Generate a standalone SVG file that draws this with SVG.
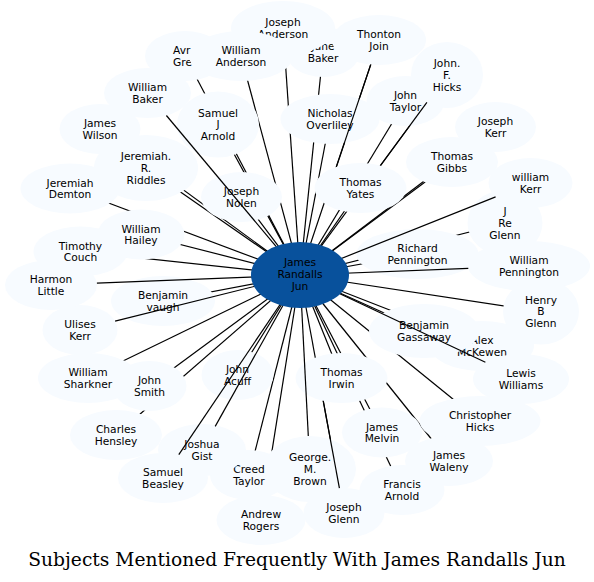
<svg xmlns="http://www.w3.org/2000/svg" width="594" height="582" viewBox="0 0 594 582">
<style>
.nd ellipse{fill:#f7fbff;stroke:none}
.ct ellipse{fill:#08519c;stroke:none}
text{font-family:"DejaVu Sans","Noto Sans",sans-serif;font-size:10.67px;text-anchor:middle;fill:#000}
.ttl{font-family:"DejaVu Serif","Liberation Serif",serif;font-size:18.67px}
.edges line{stroke:#000;stroke-width:1.2}
</style>
<rect width="594" height="582" fill="#fff"/>
<g id="edges" class="edges">
<line x1="300" y1="275" x2="323" y2="52"/>
<line x1="300" y1="275" x2="283" y2="28"/>
<line x1="300" y1="275" x2="185" y2="56"/>
<line x1="300" y1="275" x2="241" y2="56"/>
<line x1="300" y1="275" x2="379" y2="40"/>
<line x1="300" y1="275" x2="330" y2="119"/>
<line x1="300" y1="275" x2="405.5" y2="101"/>
<line x1="300" y1="275" x2="447" y2="75"/>
<line x1="300" y1="275" x2="360.5" y2="188"/>
<line x1="300" y1="275" x2="495.5" y2="127"/>
<line x1="300" y1="275" x2="452" y2="162"/>
<line x1="300" y1="275" x2="505" y2="223"/>
<line x1="300" y1="275" x2="417.5" y2="254"/>
<line x1="300" y1="275" x2="541" y2="311.5"/>
<line x1="300" y1="275" x2="482" y2="346"/>
<line x1="300" y1="275" x2="424" y2="331"/>
<line x1="300" y1="275" x2="480" y2="421"/>
<line x1="300" y1="275" x2="449" y2="461"/>
<line x1="300" y1="275" x2="402" y2="490"/>
<line x1="300" y1="275" x2="382" y2="432.5"/>
<line x1="300" y1="275" x2="344" y2="513"/>
<line x1="300" y1="275" x2="341.5" y2="378"/>
<line x1="300" y1="275" x2="261" y2="520"/>
<line x1="300" y1="275" x2="249" y2="475"/>
<line x1="300" y1="275" x2="116" y2="435"/>
<line x1="300" y1="275" x2="149.5" y2="386"/>
<line x1="300" y1="275" x2="237.5" y2="375"/>
<line x1="300" y1="275" x2="88" y2="378"/>
<line x1="300" y1="275" x2="163" y2="301"/>
<line x1="300" y1="275" x2="141" y2="234.5"/>
<line x1="300" y1="275" x2="80.5" y2="251.5"/>
<line x1="300" y1="275" x2="70" y2="188.5"/>
<line x1="300" y1="275" x2="146" y2="168"/>
<line x1="300" y1="275" x2="100" y2="129"/>
<line x1="300" y1="275" x2="218" y2="124.5"/>
<line x1="300" y1="275" x2="241.5" y2="197"/>
</g>
<g id="n-jane-baker" class="nd"><ellipse cx="323" cy="52" rx="37" ry="25"/><text x="323" y="50.1">Jane</text><text x="323" y="61.8">Baker</text></g>
<g id="n-joseph-anderson" class="nd"><ellipse cx="283" cy="28" rx="52" ry="27"/><text x="283" y="26.1">Joseph</text><text x="283" y="37.8">Anderson</text></g>
<g id="n-avr-gre" class="nd"><ellipse cx="185" cy="56" rx="40" ry="25"/><text x="173" y="54.1" style="text-anchor:start">Avr</text><text x="173" y="65.8" style="text-anchor:start">Gre</text></g>
<g id="n-william-anderson" class="nd"><ellipse cx="241" cy="56" rx="52" ry="25"/><text x="241" y="54.1">William</text><text x="241" y="65.8">Anderson</text></g>
<g id="n-thonton-join" class="nd"><ellipse cx="379" cy="40" rx="47" ry="25"/><text x="379" y="38.1">Thonton</text><text x="379" y="49.8">Join</text></g>
<g id="n-nicholas-overliley" class="nd"><ellipse cx="330" cy="119" rx="49.5" ry="25"/><text x="330" y="117.1">Nicholas</text><text x="330" y="128.8">Overliley</text></g>
<g id="n-john-taylor" class="nd"><ellipse cx="405.5" cy="101" rx="39" ry="25"/><text x="405.5" y="99.1">John</text><text x="405.5" y="110.8">Taylor</text></g>
<g id="n-john-f-hicks" class="nd"><ellipse cx="447" cy="75" rx="36" ry="33"/><text x="447" y="67.2">John.</text><text x="447" y="78.9">F.</text><text x="447" y="90.6">Hicks</text></g>
<g id="n-thomas-yates" class="nd"><ellipse cx="360.5" cy="188" rx="46" ry="25"/><text x="360.5" y="186.1">Thomas</text><text x="360.5" y="197.8">Yates</text></g>
<g id="n-joseph-kerr" class="nd"><ellipse cx="495.5" cy="127" rx="40.5" ry="25"/><text x="495.5" y="125.1">Joseph</text><text x="495.5" y="136.8">Kerr</text></g>
<g id="n-thomas-gibbs" class="nd"><ellipse cx="452" cy="162" rx="46" ry="25"/><text x="452" y="160.1">Thomas</text><text x="452" y="171.8">Gibbs</text></g>
<g id="n-william-kerr" class="nd"><ellipse cx="530.5" cy="183" rx="42" ry="25"/><text x="530.5" y="181.1">william</text><text x="530.5" y="192.8">Kerr</text></g>
<g id="n-j-re-glenn" class="nd"><ellipse cx="505" cy="223" rx="37.5" ry="33"/><text x="505" y="215.2">J</text><text x="505" y="226.9">Re</text><text x="505" y="238.6">Glenn</text></g>
<g id="n-richard-pennington" class="nd"><ellipse cx="417.5" cy="254" rx="61" ry="25"/><text x="417.5" y="252.1">Richard</text><text x="417.5" y="263.8">Pennington</text></g>
<g id="n-william-pennington" class="nd"><ellipse cx="529" cy="266" rx="61" ry="25"/><text x="529" y="264.1">William</text><text x="529" y="275.8">Pennington</text></g>
<g id="n-henry-b-glenn" class="nd"><ellipse cx="541" cy="311.5" rx="38" ry="33"/><text x="541" y="303.7">Henry</text><text x="541" y="315.4">B</text><text x="541" y="327.1">Glenn</text></g>
<g id="n-alex-mckewen" class="nd"><ellipse cx="482" cy="346" rx="52" ry="25"/><text x="482" y="344.1">Alex</text><text x="482" y="355.8">McKewen</text></g>
<g id="n-benjamin-gassaway" class="nd"><ellipse cx="424" cy="331" rx="55" ry="27"/><text x="424" y="329.1">Benjamin</text><text x="424" y="340.8">Gassaway</text></g>
<g id="n-lewis-williams" class="nd"><ellipse cx="521" cy="379" rx="48" ry="25"/><text x="521" y="377.1">Lewis</text><text x="521" y="388.8">Williams</text></g>
<g id="n-christopher-hicks" class="nd"><ellipse cx="480" cy="421" rx="60.5" ry="25"/><text x="480" y="419.1">Christopher</text><text x="480" y="430.8">Hicks</text></g>
<g id="n-james-waleny" class="nd"><ellipse cx="449" cy="461" rx="44" ry="25"/><text x="449" y="459.1">James</text><text x="449" y="470.8">Waleny</text></g>
<g id="n-francis-arnold" class="nd"><ellipse cx="402" cy="490" rx="42.5" ry="25"/><text x="402" y="488.1">Francis</text><text x="402" y="499.8">Arnold</text></g>
<g id="n-james-melvin" class="nd"><ellipse cx="382" cy="432.5" rx="40" ry="25"/><text x="382" y="430.6">James</text><text x="382" y="442.3">Melvin</text></g>
<g id="n-george-brown" class="nd"><ellipse cx="310" cy="469" rx="46" ry="33"/><text x="310" y="461.2">George.</text><text x="310" y="472.9">M.</text><text x="310" y="484.6">Brown</text></g>
<g id="n-joseph-glenn" class="nd"><ellipse cx="344" cy="513" rx="40.5" ry="25"/><text x="344" y="511.1">Joseph</text><text x="344" y="522.8">Glenn</text></g>
<g id="n-thomas-irwin" class="nd"><ellipse cx="341.5" cy="378" rx="46" ry="25"/><text x="341.5" y="376.1">Thomas</text><text x="341.5" y="387.8">Irwin</text></g>
<g id="n-andrew-rogers" class="nd"><ellipse cx="261" cy="520" rx="44.5" ry="25"/><text x="261" y="518.1">Andrew</text><text x="261" y="529.8">Rogers</text></g>
<g id="n-creed-taylor" class="nd"><ellipse cx="249" cy="475" rx="39" ry="25"/><text x="249" y="473.1">Creed</text><text x="249" y="484.8">Taylor</text></g>
<g id="n-joshua-gist" class="nd"><ellipse cx="202" cy="450" rx="44" ry="26"/><text x="202" y="448.1">Joshua</text><text x="202" y="459.8">Gist</text></g>
<g id="n-samuel-beasley" class="nd"><ellipse cx="163" cy="478" rx="45" ry="25"/><text x="163" y="476.1">Samuel</text><text x="163" y="487.8">Beasley</text></g>
<g id="n-charles-hensley" class="nd"><ellipse cx="116" cy="435" rx="46" ry="25"/><text x="116" y="433.1">Charles</text><text x="116" y="444.8">Hensley</text></g>
<g id="n-john-smith" class="nd"><ellipse cx="149.5" cy="386" rx="37" ry="25"/><text x="149.5" y="384.1">John</text><text x="149.5" y="395.8">Smith</text></g>
<g id="n-john-acuff" class="nd"><ellipse cx="237.5" cy="375" rx="36" ry="25"/><text x="237.5" y="373.1">John</text><text x="237.5" y="384.8">Acuff</text></g>
<g id="n-william-sharkner" class="nd"><ellipse cx="88" cy="378" rx="50" ry="25"/><text x="88" y="376.1">William</text><text x="88" y="387.8">Sharkner</text></g>
<g id="n-ulises-kerr" class="nd"><ellipse cx="80" cy="330" rx="37.5" ry="25"/><text x="80" y="328.1">Ulises</text><text x="80" y="339.8">Kerr</text></g>
<g id="n-harmon-little" class="nd"><ellipse cx="51" cy="285" rx="46" ry="25"/><text x="51" y="283.1">Harmon</text><text x="51" y="294.8">Little</text></g>
<g id="n-benjamin-vaugh" class="nd"><ellipse cx="163" cy="301" rx="52" ry="25"/><text x="163" y="299.1">Benjamin</text><text x="163" y="310.8">vaugh</text></g>
<g id="n-william-hailey" class="nd"><ellipse cx="141" cy="234.5" rx="43.5" ry="25"/><text x="141" y="232.6">William</text><text x="141" y="244.3">Hailey</text></g>
<g id="n-timothy-couch" class="nd"><ellipse cx="80.5" cy="251.5" rx="47" ry="25"/><text x="80.5" y="249.6">Timothy</text><text x="80.5" y="261.3">Couch</text></g>
<g id="n-jeremiah-demton" class="nd"><ellipse cx="70" cy="188.5" rx="49.5" ry="25"/><text x="70" y="186.6">Jeremiah</text><text x="70" y="198.3">Demton</text></g>
<g id="n-jeremiah-riddles" class="nd"><ellipse cx="146" cy="168" rx="52" ry="33"/><text x="146" y="160.2">Jeremiah.</text><text x="146" y="171.9">R.</text><text x="146" y="183.6">Riddles</text></g>
<g id="n-james-wilson" class="nd"><ellipse cx="100" cy="129" rx="40.5" ry="25"/><text x="100" y="127.1">James</text><text x="100" y="138.8">Wilson</text></g>
<g id="n-william-baker" class="nd"><ellipse cx="147.5" cy="93" rx="43.5" ry="25"/><text x="147.5" y="91.1">William</text><text x="147.5" y="102.8">Baker</text></g>
<g id="n-samuel-j-arnold" class="nd"><ellipse cx="218" cy="124.5" rx="41" ry="33"/><text x="218" y="116.7">Samuel</text><text x="218" y="128.4">J</text><text x="218" y="140.1">Arnold</text></g>
<g id="n-joseph-nolen" class="nd"><ellipse cx="241.5" cy="197" rx="40.5" ry="25"/><text x="241.5" y="195.1">Joseph</text><text x="241.5" y="206.8">Nolen</text></g>
<g id="edges-over" class="edges">
<line x1="370.7" y1="64.6" x2="336.3" y2="166.9"/>
<line x1="426.9" y1="102.4" x2="380.6" y2="165.4"/>
<line x1="339.4" y1="488.2" x2="323.2" y2="400.8"/>
<line x1="166.4" y1="115.5" x2="300" y2="275"/>
<line x1="96.9" y1="283.2" x2="300" y2="275"/>
<line x1="115.1" y1="321.2" x2="300" y2="275"/>
<line x1="215.2" y1="426.4" x2="300" y2="275"/>
<line x1="178.8" y1="454.6" x2="300" y2="275"/>
<line x1="485.4" y1="362.2" x2="300" y2="275"/>
<line x1="468.3" y1="268.4" x2="300" y2="275"/>
<line x1="495.6" y1="196.9" x2="300" y2="275"/>
<line x1="308.3" y1="436" x2="300" y2="275"/>
</g>
<g id="n-james-randalls-jun" class="ct"><ellipse cx="300" cy="275" rx="49" ry="33"/><text x="300" y="265.8">James</text><text x="300" y="277.9">Randalls</text><text x="300" y="290">Jun</text></g>
<text class="ttl" x="297" y="566">Subjects Mentioned Frequently With James Randalls Jun</text>
</svg>
